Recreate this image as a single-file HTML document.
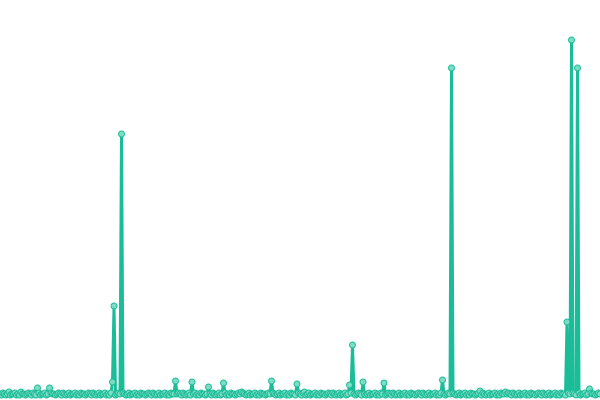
<!DOCTYPE html>
<html><head><meta charset="utf-8"><style>
html,body{margin:0;padding:0;background:#fff;width:600px;height:400px;overflow:hidden}
</style></head><body>
<svg id="chart" width="600" height="400" xmlns="http://www.w3.org/2000/svg"></svg>
<script>
const baseline = [
1,0,2,1,0,1,2,0,1,1,2,0,1,0,2,1,1,0,1,2,
1,0,2,1,0,1,2,0,1,1,2,0,1,0,2,1,1,0,1,2,
1,0,2,1,0,1,2,0,1,1,2,0,1,0,2,1,1,0,1,2,
1,0,2,1,0,1,2,0,1,1,2,0,1,0,2,1,1,0,1,2,
1,0,2,1,0,1,2,0,1,1,2,0,1,0,2,1,1,0,1,2,
1,0,2,1,0,1,2,0,1,1,2,0,1,0,2,1,1,0,1,2,
1,0,2,1,0,1,2,0,1,1,2,0,1,0,2,1,1,0,1,2,
1,0,2,1,0,1,2,0,1,1,2,0,1,0,2,1,1,0,1,2,
1,0,2,1,0,1,2,0,1,1,2,0,1,0,2,1,1,0,1,2,
1,0,2,1,0,1,2,0,1,1,2,0,1,0,2,1,1,0,1,2,
1,0,2,1,0,1,2,0,1,1,2,0,1,0,2,1,1,0,1,2,
1,0,2,1,0,1,2,0,1,1,2,0,1,0,2,1,1,0,1,2,
1,0,2,1,0,1,2,0,1,1,2,0,1,0,2,1,1,0,1,2,
1,0,2,1,0,1,2,0,1,1,2,0,1,0,2,1,1,0,1,2,
1,0,2,1,0,1,2,0,1,1,2,0,1,0,2,1,1,0,1,2,
1,0,2,1,0,1,2,0,1,1,2,0,1,0,2,1,1,0,1,2,
1,0,2,1,0,1,2,0,1,1,2,0,1,0,2,1,1,0,1,2,
1,0,2,1,0,1,2,0,1,1,2,0,1,0,2,1,1,0,1,2,
1,0,2,1,0,1,2,0,1,1,2,0,1,0,2,1,1,0,1,2,
1,0,2,1,0,1,2,0,1,1,2,0,1,0,2,1,1,0,1,2,
1
];
const spikeIndex = [6,14,25,33,75,76,81,117,128,139,149,161,181,198,203,233,235,242,256,295,301,320,337,378,381,385,393];
const spikeValue = [3,3,7,7,13,89,261,14,13,8,12,3,14,11,3,10,50,13,12,15,327,4,3,73,355,327,6];
const values = baseline.slice();
spikeIndex.forEach((idx, k) => { values[idx] = spikeValue[k]; });
const xStep = 1.5;
const yBase = 395, yScale = 1;
function xPos(i){ return i * xStep; }
function yPos(v){ return yBase - v * yScale; }
const svg = document.getElementById('chart');
const NS = 'http://www.w3.org/2000/svg';
const line = document.createElementNS(NS, 'polyline');


line.setAttribute('points', values.map((v, i) => xPos(i) + ',' + yPos(v)).join(' '));
line.setAttribute('fill', 'none');
line.setAttribute('stroke', '#1bbc98');
line.setAttribute('stroke-width', '3');
line.setAttribute('stroke-linejoin', 'round');
svg.appendChild(line);
values.forEach((v, i) => {
  const c = document.createElementNS(NS, 'circle');
  
  
  c.setAttribute('cx', xPos(i));
  c.setAttribute('cy', yPos(v));
  c.setAttribute('r', '3');
  c.setAttribute('fill', '#7fdcc4');
  c.setAttribute('stroke', '#1bbc98');
  c.setAttribute('stroke-width', '1');
  svg.appendChild(c);
});
</script>
</body></html>
